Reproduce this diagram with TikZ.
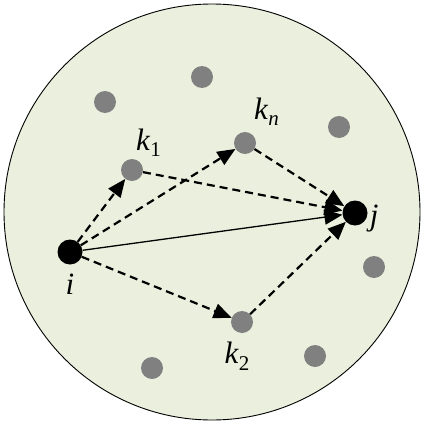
\documentclass[tikz,border=0pt]{standalone}
\usepackage{fontspec}
\setmainfont{Liberation Serif}
\usetikzlibrary{positioning}
\usetikzlibrary{arrows.meta}

\definecolor{regionfill}{RGB}{234,240,221}
\definecolor{dotgray}{RGB}{128,128,128}

% subscript a bit larger than the usual one
\newcommand{\sub}[1]{\raisebox{-0.2em}{\fontsize{21}{21}\selectfont #1}}

\tikzset{
  peer/.style={circle, fill=dotgray, inner sep=0pt, minimum size=22pt},
  endpt/.style={circle, fill=black, inner sep=0pt, minimum size=25pt},
  relay/.style={line width=2.2pt, dash pattern=on 8pt off 5pt,
    -{Triangle[length=18pt,width=15pt]}},
  direct/.style={line width=1.3pt, -{Triangle[length=18pt,width=15pt]}},
  tag/.style={font=\fontsize{31}{34}\selectfont, inner sep=0pt}
}

\begin{document}
\begin{tikzpicture}[x=1pt, y=-1pt]
  \useasboundingbox (0,0) rectangle (422,423);

  % the whole region
  \draw [fill=regionfill, line width=0.9pt] (212,212) circle (208);

  % other nodes in the region
  \node [peer] (p1) at (202,77) {};
  \node [peer] (p2) at (105,102) {};
  \node [peer] (p3) at (339,127) {};
  \node [peer] (p4) at (374,267) {};
  \node [peer] (p5) at (315,356) {};
  \node [peer] (p6) at (152,368) {};

  % source, destination and relays
  \node [endpt] (i) at (70,252) {};
  \node [endpt] (j) at (355,213) {};
  \node [peer] (k1) at (132,170) {};
  \node [peer] (kn) at (245,143) {};
  \node [peer] (k2) at (242,322) {};

  \node [tag, below=9pt of i] {\textit{i}};
  \node [tag, right=2pt of j, yshift=-6pt] {\textit{j}};
  \node [tag, above right=5pt and -4pt of k1] {\textit{k}\sub{1}};
  \node [tag, above right=9pt and 1pt of kn] {\textit{k}\sub{\textit{n}}};
  \node [tag, below=9pt of k2, xshift=-5pt] {\textit{k}\sub{2}};

  \draw [relay] (i) -- (k1);
  \draw [relay] (i) -- (kn);
  \draw [relay] (i) -- (k2);
  \draw [relay] (k1) -- (j);
  \draw [relay] (kn) -- (j);
  \draw [relay] (k2) -- (j);
  \draw [direct] (i) -- (j);
\end{tikzpicture}
\end{document}
